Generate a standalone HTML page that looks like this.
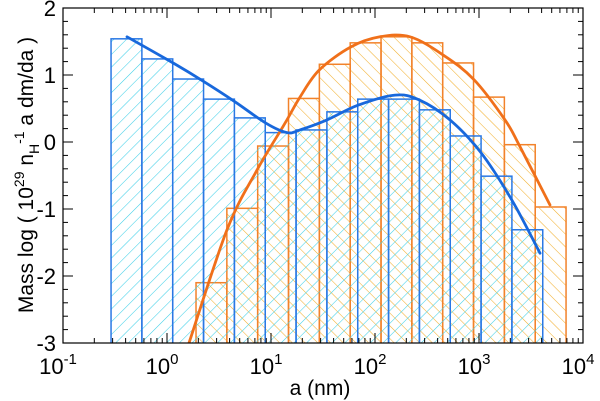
<!DOCTYPE html>
<html><head><meta charset="utf-8"><style>
html,body{margin:0;padding:0;background:#fff;}
svg{display:block;font-family:"Liberation Sans",sans-serif;}
</style></head><body>
<svg id="chart" width="600" height="401" viewBox="0 0 600 401">
<defs>
<pattern id="hatchBlue" patternUnits="userSpaceOnUse" width="9" height="9" patternTransform="rotate(45)">
<line x1="0" y1="0" x2="0" y2="9" stroke="#40d0e8" stroke-width="1.1"/></pattern>
<pattern id="hatchOrange" patternUnits="userSpaceOnUse" width="9" height="9" patternTransform="rotate(-45)">
<line x1="0" y1="0" x2="0" y2="9" stroke="#f2b030" stroke-width="1.1"/></pattern>
<clipPath id="plotClip"><rect x="63" y="8" width="520" height="335"/></clipPath>
</defs>
<g id="plot" clip-path="url(#plotClip)"></g>
<g id="axes"></g>
</svg>
<script>
// data
const blueStartLog = -0.538;
const orangeStartLog = 0.279;
const binWidthLog = 0.2965;
const blueBarValues = [1.54,1.24,0.94,0.64,0.36,0.14,0.18,0.45,0.64,0.64,0.48,0.09,-0.51,-1.31];
const orangeBarValues = [-2.10,-0.99,-0.06,0.65,1.16,1.48,1.57,1.48,1.18,0.67,-0.04,-0.97];
const blueCurveLogA = [-0.385,0.058,0.356,0.654,0.952,1.154,1.279,1.538,1.837,2.192,2.423,2.721,3.019,3.317,3.587];
const blueCurveValues = [1.57,1.18,0.90,0.60,0.28,0.14,0.18,0.33,0.55,0.70,0.63,0.33,-0.16,-0.87,-1.66];
const orangeCurveLogA = [0.212,0.577,0.865,1.135,1.279,1.462,1.769,2.048,2.337,2.654,2.952,3.25,3.394,3.683];
const orangeCurveValues = [-3.0,-1.31,-0.42,0.28,0.67,1.07,1.42,1.57,1.57,1.30,0.93,0.33,-0.07,-0.94];
const xTickExps = [-1,0,1,2,3,4];
const yTickValues = [2,1,0,-1,-2,-3];
const yTickLabels = ["2","1","0","-1","-2","-3"];

const L=63,R=583,T=8,B=343;
const X=l=>L+(l-(-1))*(R-L)/5;
const Y=v=>B-(v-(-3))*(B-T)/5;
const NS="http://www.w3.org/2000/svg";
const plot=document.getElementById('plot'), axes=document.getElementById('axes');
function mk(tag,attrs,parent){const e=document.createElementNS(NS,tag);for(const k in attrs)e.setAttribute(k,attrs[k]);parent.appendChild(e);return e;}

function bars(start,vals,fill,stroke,name){
  vals.forEach((v,i)=>{
    const x0=X(start+i*binWidthLog),x1=X(start+(i+1)*binWidthLog);
    const r=mk('rect',{x:x0,y:Y(v),width:x1-x0,height:B+5-Y(v),fill:fill,stroke:stroke,'stroke-width':1.5},plot);
    
    
  });
}
bars(orangeStartLog,orangeBarValues,'url(#hatchOrange)','#f2822a','orange');
bars(blueStartLog,blueBarValues,'url(#hatchBlue)','#2a78e4','blue');

function curve(xs,vs,color,name){
  const P=xs.map((l,i)=>[X(l),Y(vs[i])]);
  let d='M'+P[0][0].toFixed(1)+','+P[0][1].toFixed(1);
  for(let i=0;i<P.length-1;i++){
    const p0=P[Math.max(0,i-1)],p1=P[i],p2=P[i+1],p3=P[Math.min(P.length-1,i+2)];
    const c1=[p1[0]+(p2[0]-p0[0])/6,p1[1]+(p2[1]-p0[1])/6];
    const c2=[p2[0]-(p3[0]-p1[0])/6,p2[1]-(p3[1]-p1[1])/6];
    d+=' C'+c1[0].toFixed(1)+','+c1[1].toFixed(1)+' '+c2[0].toFixed(1)+','+c2[1].toFixed(1)+' '+p2[0].toFixed(1)+','+p2[1].toFixed(1);
  }
  const p=mk('path',{d:d,fill:'none',stroke:color,'stroke-width':2.8,'stroke-linejoin':'round','stroke-linecap':'round'},plot);
  
  
}
curve(orangeCurveLogA,orangeCurveValues,'#f0701a','orange-fit-curve');
curve(blueCurveLogA,blueCurveValues,'#1868dc','blue-fit-curve');

// frame
const fr=mk('rect',{x:L,y:T,width:R-L,height:B-T,fill:'none',stroke:'#000','stroke-width':1.2},axes);


for(let e=-1;e<4;e++){for(let m=1;m<10;m++){const x=X(e+Math.log10(m));const len=m===1?10:5;
  mk('line',{x1:x,y1:B,x2:x,y2:B-len,stroke:'#000','stroke-width':1},axes);
  mk('line',{x1:x,y1:T,x2:x,y2:T+len,stroke:'#000','stroke-width':1},axes);}}
xTickExps.forEach(e=>{const t=mk('text',{x:X(e)-5,y:374,'text-anchor':'middle','font-size':22},axes);
  
  
  t.textContent='10';
  const s=mk('tspan',{dy:-10,'font-size':15},t);s.textContent=String(e);});
for(let v=-3;v<=2.001;v+=0.2){const y=Y(v);const maj=Math.abs(v-Math.round(v))<0.01;const len=maj?10:5;
  mk('line',{x1:L,y1:y,x2:L+len,y2:y,stroke:'#000','stroke-width':1},axes);
  mk('line',{x1:R,y1:y,x2:R-len,y2:y,stroke:'#000','stroke-width':1},axes);}
yTickValues.forEach((v,i)=>{const t=mk('text',{x:56,y:Y(v)+8,'text-anchor':'end','font-size':22},axes);
  
  
  t.textContent=yTickLabels[i];});

const svg=document.getElementById('chart');
const xt=mk('text',{x:320,y:395,'text-anchor':'middle','font-size':21},svg);


xt.textContent='a (nm)';
const yt=mk('text',{transform:'translate(33,175) rotate(-90)','text-anchor':'middle','font-size':21},svg);


yt.innerHTML='Mass log ( 10<tspan dy="-9" font-size="14">29</tspan><tspan dy="9"> n</tspan><tspan dy="6" font-size="14">H</tspan><tspan dy="-15" font-size="14">-1</tspan><tspan dy="9"> a dm/da )</tspan>';
</script>
</body></html>
